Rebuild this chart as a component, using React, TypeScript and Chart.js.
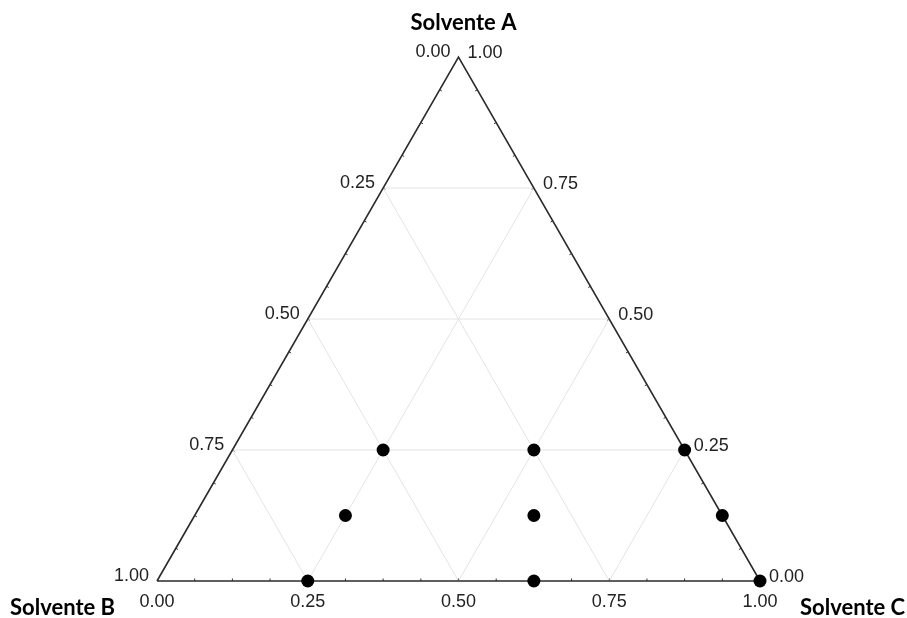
import React, { useEffect, useRef } from "react";
import { Chart, registerables } from "chart.js";

Chart.register(...registerables);

// Compositions (fractions of Solvente A, B, C) of each mixture
const compA = [0.25, 0.25, 0.25, 0.125, 0.125, 0.125, 0, 0, 0];
const compB = [0.5, 0.25, 0, 0.625, 0.3125, 0, 0.75, 0.375, 0];
const compC = [0.25, 0.5, 0.75, 0.25, 0.5625, 0.875, 0.25, 0.625, 1];

// Axis tick values and labels
const majorTicks = [0, 0.25, 0.5, 0.75, 1];
const bottomLabels = ["0.00", "0.25", "0.50", "0.75", "1.00"]; // Solvente C
const leftLabels = ["1.00", "0.75", "0.50", "0.25", "0.00"]; // Solvente B (by level of A)
const rightLabels = ["0.00", "0.25", "0.50", "0.75", "1.00"]; // Solvente A
const gridLevels = [0.25, 0.5, 0.75];
const minorDivisions = 16;
const vertexTitles = ["Solvente A", "Solvente B", "Solvente C"];

const H = Math.sqrt(3) / 2;
const toXY = (a: number, b: number, c: number) => ({ x: c + a / 2, y: a * H });

export default function App() {
  const ref = useRef<HTMLCanvasElement | null>(null);

  useEffect(() => {
    if (!ref.current) return;
    const points = compA.map((a, i) => toXY(a, compB[i], compC[i]));

    const gridSets: any[] = [];
    gridLevels.forEach((t) => {
      const segs = [
        [toXY(t, 1 - t, 0), toXY(t, 0, 1 - t)],
        [toXY(1 - t, t, 0), toXY(0, t, 1 - t)],
        [toXY(1 - t, 0, t), toXY(0, 1 - t, t)],
      ];
      segs.forEach((s) =>
        gridSets.push({
          data: s,
          showLine: true,
          borderColor: "#e3e3e3",
          borderWidth: 1,
          pointRadius: 0,
          fill: false,
        })
      );
    });

    const edge = {
      data: [toXY(0, 1, 0), toXY(0, 0, 1), toXY(1, 0, 0), toXY(0, 1, 0)],
      showLine: true,
      borderColor: "#2b2b2b",
      borderWidth: 1.6,
      pointRadius: 0,
      fill: false,
    };

    const ternaryPlugin = {
      id: "ternary",
      beforeDatasetsDraw(chart: any) {
        const { ctx, scales } = chart;
        const px = (p: { x: number; y: number }) => [
          scales.x.getPixelForValue(p.x),
          scales.y.getPixelForValue(p.y),
        ];
        ctx.save();
        ctx.strokeStyle = "#333333";
        ctx.lineWidth = 1;
        for (let i = 1; i < minorDivisions; i++) {
          const t = i / minorDivisions;
          const bottom = px(toXY(0, 1 - t, t));
          const left = px(toXY(t, 1 - t, 0));
          const right = px(toXY(t, 0, 1 - t));
          const L = 2.5;
          ctx.beginPath();
          ctx.moveTo(bottom[0], bottom[1]);
          ctx.lineTo(bottom[0], bottom[1] - L);
          ctx.moveTo(left[0], left[1]);
          ctx.lineTo(left[0] + 0.866 * L, left[1] + 0.5 * L);
          ctx.moveTo(right[0], right[1]);
          ctx.lineTo(right[0] - 0.866 * L, right[1] + 0.5 * L);
          ctx.stroke();
        }
        ctx.restore();
      },
      afterDraw(chart: any) {
        const { ctx, scales } = chart;
        const px = (p: { x: number; y: number }) => [
          scales.x.getPixelForValue(p.x),
          scales.y.getPixelForValue(p.y),
        ];
        ctx.save();
        ctx.fillStyle = "#222222";
        ctx.font = '18px "Liberation Sans", Arial, sans-serif';
        ctx.textBaseline = "middle";
        majorTicks.forEach((t, i) => {
          const b = px(toXY(0, 1 - t, t));
          ctx.textAlign = "center";
          ctx.fillText(bottomLabels[i], b[0], b[1] + 21);
          const l = px(toXY(t, 1 - t, 0));
          ctx.textAlign = "right";
          ctx.fillText(leftLabels[i], l[0] - 8, l[1] - 5);
          const r = px(toXY(t, 0, 1 - t));
          ctx.textAlign = "left";
          ctx.fillText(rightLabels[i], r[0] + 9, r[1] - 4);
        });
        ctx.fillStyle = "#000000";
        ctx.font = 'bold 22px Lato, "Noto Sans", sans-serif';
        ctx.textBaseline = "alphabetic";
        ctx.textAlign = "center";
        const apex = px(toXY(1, 0, 0));
        ctx.fillText(vertexTitles[0], apex[0] + 5, 30);
        ctx.textAlign = "left";
        ctx.fillText(vertexTitles[1], 10, 615);
        ctx.fillText(vertexTitles[2], 800, 615);
        ctx.restore();
      },
    };

    const chart = new Chart(ref.current, {
      type: "scatter",
      data: {
        datasets: [
          {
            data: points,
            pointRadius: 6.5,
            pointBackgroundColor: "#000000",
            pointBorderColor: "#000000",
            pointBorderWidth: 0,
            showLine: false,
          } as any,
          edge as any,
          ...gridSets,
        ],
      },
      options: {
        animation: false,
        responsive: false,
        events: [],
        layout: { padding: 0, autoPadding: false } as any,
        plugins: { legend: { display: false }, tooltip: { enabled: false } },
        scales: {
          x: { type: "linear", display: false, min: -157 / 603, max: -157 / 603 + 907 / 603 },
          y: {
            type: "linear",
            display: false,
            min: (581 - 618) / (524 / H),
            max: 581 / (524 / H),
          },
        },
      },
      plugins: [ternaryPlugin],
    });
    return () => chart.destroy();
  }, []);

  return (
    <div style={{ position: "absolute", left: 0, top: 0, width: 907, height: 618, background: "#fff" }}>
      <canvas ref={ref} width={907} height={618} style={{ display: "block" }} />
    </div>
  );
}
